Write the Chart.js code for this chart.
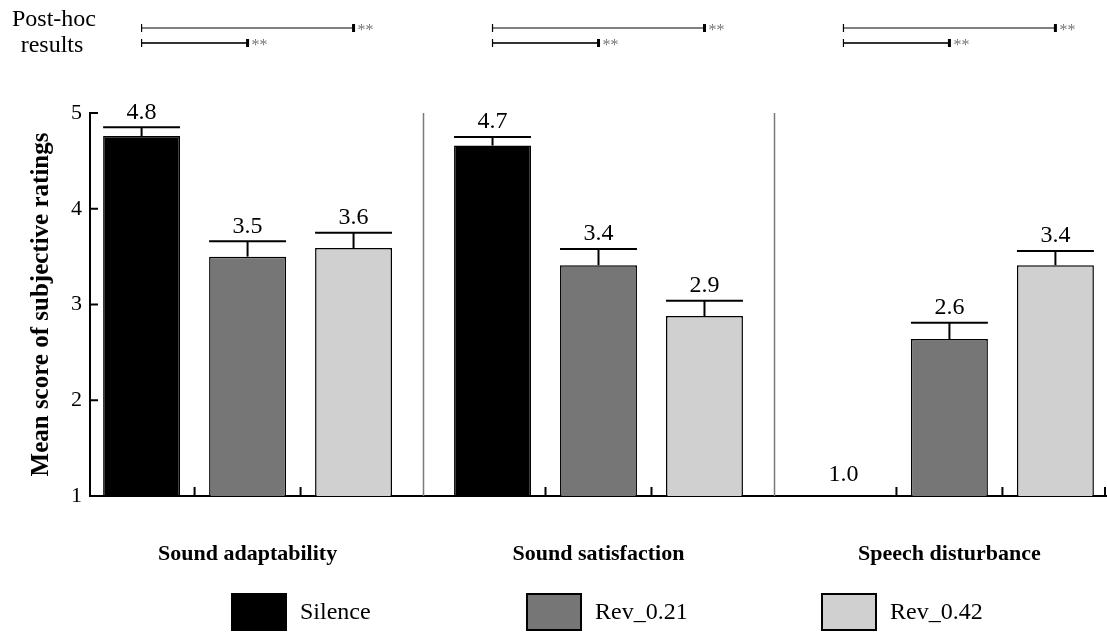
<!DOCTYPE html>
<html>
<head>
<meta charset="utf-8">
<script src="https://cdn.jsdelivr.net/npm/chart.js@4/dist/chart.umd.min.js"></script>
<style>
  html, body { margin: 0; padding: 0; background: #fff; }
  #wrap { width: 1107px; height: 632px; position: relative; }
</style>
</head>
<body>
<div id="wrap"><canvas id="chart"></canvas></div>
<script>
const categories = ["Sound adaptability", "Sound satisfaction", "Speech disturbance"];
const seriesNames = ["Silence", "Rev_0.21", "Rev_0.42"];
const silence = [4.76, 4.66, 1.0];
const rev021 = [3.50, 3.41, 2.64];
const rev042 = [3.59, 2.88, 3.41];
const silenceErr = [0.09, 0.09, 0];
const rev021Err = [0.16, 0.17, 0.17];
const rev042Err = [0.16, 0.16, 0.15];
const yTicks = [1, 2, 3, 4, 5];
const colors = ["#000000", "#767676", "#d0d0d0"];
// post-hoc comparisons (series index pairs), same in every group
const postHoc = [[0, 2], [0, 1]];
const postHocMarks = ["**", "**"];

const FONT = "'Liberation Serif', 'Times New Roman', serif";
const values = [silence, rev021, rev042];
const errors = [silenceErr, rev021Err, rev042Err];

function line(ctx, x1, y1, x2, y2, w, c) {
  ctx.beginPath();
  ctx.lineWidth = w;
  ctx.strokeStyle = c;
  ctx.moveTo(x1, y1);
  ctx.lineTo(x2, y2);
  ctx.stroke();
}

const decor = {
  id: 'decor',
  afterDatasetsDraw(chart) {
    const ctx = chart.ctx;
    const xs = chart.scales.x, ys = chart.scales.y;
    const area = chart.chartArea;
    ctx.save();

    // group separators
    for (let i = 0; i < categories.length - 1; i++) {
      const x = Math.round(xs.getPixelForValue(i + 0.5)) + 0.5;
      line(ctx, x, area.top, x, area.bottom, 1.5, '#7a7a7a');
    }

    // error bars and value labels
    ctx.font = "24px " + FONT;
    ctx.fillStyle = '#000';
    ctx.textAlign = 'center';
    ctx.textBaseline = 'bottom';
    values.forEach((vals, d) => {
      const meta = chart.getDatasetMeta(d);
      meta.data.forEach((bar, i) => {
        const top = ys.getPixelForValue(vals[i] + errors[d][i]);
        const half = bar.width / 2;
        if (errors[d][i] > 0) {
          line(ctx, bar.x, bar.y, bar.x, top, 2, '#000');
          line(ctx, bar.x - half, top, bar.x + half, top, 2, '#000');
        }
        ctx.fillText(vals[i].toFixed(1), bar.x, top - (errors[d][i] > 0 ? 3 : 9));
      });
    });

    // small inward ticks on x axis (between bars)
    const metas = values.map((v, d) => chart.getDatasetMeta(d));
    const tickXs = [];
    categories.forEach((c, i) => {
      for (let d = 0; d < metas.length - 1; d++) {
        tickXs.push((metas[d].data[i].x + metas[d + 1].data[i].x) / 2);
      }
    });
    tickXs.push(area.right - 2);
    tickXs.forEach(x => line(ctx, x, area.bottom, x, area.bottom - 9, 2, '#000'));

    // inward ticks on y axis
    yTicks.forEach(t => {
      const y = ys.getPixelForValue(t);
      line(ctx, area.left, y, area.left + 8, y, 2, '#000');
    });

    // post-hoc brackets
    ctx.font = "16px " + FONT;
    ctx.textAlign = 'left';
    ctx.textBaseline = 'middle';
    categories.forEach((c, i) => {
      postHoc.forEach((pair, k) => {
        const x1 = metas[pair[0]].data[i].x;
        const x2 = metas[pair[1]].data[i].x;
        const y = 28 + k * 15;
        line(ctx, x1, y, x2, y, 2, k === 0 ? '#808080' : '#333');
        line(ctx, x1, y - 4, x1, y + 4, 1.2, '#000');
        line(ctx, x2, y - 4, x2, y + 4, 3, '#000');
        ctx.fillStyle = '#777';
        ctx.fillText(postHocMarks[k], x2 + 4, y + 3);
      });
    });
    ctx.fillStyle = '#000';
    ctx.font = "24px " + FONT;
    ctx.textAlign = 'center';
    ctx.fillText("Post-hoc", 54, 20);
    ctx.fillText("results", 52, 46);

    // legend
    ctx.textAlign = 'left';
    seriesNames.forEach((name, d) => {
      const bx = 232 + d * 295, by = 594;
      ctx.fillStyle = colors[d];
      ctx.fillRect(bx, by, 54, 36);
      ctx.lineWidth = 2;
      ctx.strokeStyle = '#000';
      ctx.strokeRect(bx, by, 54, 36);
      ctx.fillStyle = '#000';
      ctx.fillText(name, bx + 68, by + 19);
    });

    ctx.restore();
  }
};

const datasets = values.map((vals, d) => ({
  label: seriesNames[d],
  data: vals.map((v, i) => ({ x: i, y: v })),
  backgroundColor: colors[d],
  borderColor: '#000',
  borderWidth: 1.5,
  borderSkipped: false,
  categoryPercentage: 0.906,
  barPercentage: 0.726
}));

new Chart(document.getElementById('chart').getContext('2d'), {
  type: 'bar',
  data: { datasets: datasets },
  options: {
    responsive: true,
    maintainAspectRatio: false,
    animation: false,
    layout: { padding: { top: 113, right: 0, bottom: 0, left: 0 } },
    plugins: {
      legend: { display: false },
      tooltip: { enabled: false }
    },
    scales: {
      x: {
        type: 'linear',
        offset: false,
        min: -0.449,
        max: 2.449,
        afterBuildTicks: s => { s.ticks = categories.map((c, i) => ({ value: i })); },
        afterFit: s => { s.height = 136; },
        grid: { display: false, drawTicks: false, offset: false },
        border: { display: true, color: '#000', width: 2 },
        ticks: {
          autoSkip: false,
          maxRotation: 0,
          padding: 45,
          color: '#000',
          font: { family: FONT, size: 22, weight: 'bold' },
          callback: (v, i) => categories[i]
        }
      },
      y: {
        min: 1,
        max: 5,
        afterBuildTicks: s => { s.ticks = yTicks.map(v => ({ value: v })); },
        afterFit: s => { s.width = 90; },
        grid: { display: false, drawTicks: false },
        border: { display: true, color: '#000', width: 2 },
        ticks: {
          padding: 8,
          color: '#000',
          font: { family: FONT, size: 22 }
        },
        title: {
          display: true,
          text: 'Mean score of subjective ratings',
          color: '#000',
          padding: { top: 27, bottom: 0 },
          font: { family: FONT, size: 25, weight: 'bold' }
        }
      }
    }
  },
  plugins: [decor]
});
</script>
</body>
</html>
